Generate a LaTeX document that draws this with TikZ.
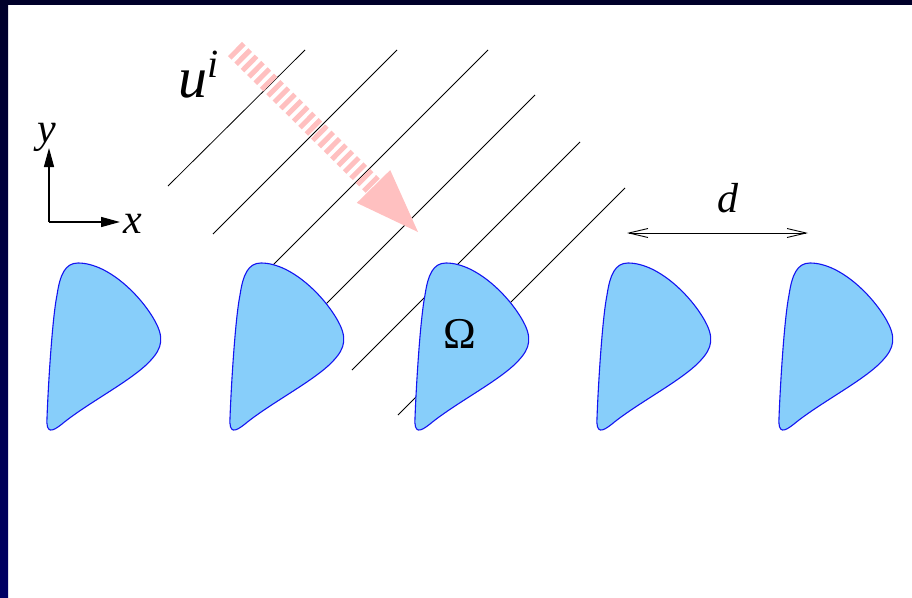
\documentclass[tikz,border=0pt]{standalone}
\usepackage{fontspec}
\setmainfont{Liberation Serif}
\usetikzlibrary{arrows.meta}
\definecolor{navytop}{HTML}{00002A}
\definecolor{navybot}{HTML}{000064}
\definecolor{skyfill}{HTML}{87CEFA}
\definecolor{blobline}{HTML}{1414F0}
\definecolor{wavepink}{HTML}{FFC0C0}

\begin{document}
\begin{tikzpicture}[x=1pt, y=-1pt,
    lbl/.style={inner sep=0pt, font={\fontsize{42}{48}\selectfont\itshape}},
    axis/.style={line width=1.4pt, -{Triangle[length=19pt, width=10pt]}},
    front/.style={line width=0.8pt, black}]
  \useasboundingbox (0,0) rectangle (912,597);
  \fill[white] (0,0) rectangle (912,597);
  % frame
  \shade[top color=navytop, bottom color=navybot] (0,0) rectangle (8,597);
  \fill[navytop] (0,0) rectangle (912,5);
  % wave fronts: lower end / upper end
  \foreach[count=\i] \xa/\ya/\xb/\yb in {%
    168/186/305/50,
    213/234/397/50,
    256/282/488/50,
    300/330/535/95,
    352/370/580/142,
    398/415/625/188} {
    \draw[front] (\xa,\ya) -- (\xb,\yb);
  }
  % scatterers
  \foreach[count=\k from 0] \off in {0,183,368,550,732} {
    \filldraw[fill=skyfill, draw=blobline, line width=1.1pt, shift={(\off,0)}]
      (78,263) .. controls (110,263) and (145,300) .. (157,325)
      .. controls (165,342) and (160,352) .. (145,366)
      .. controls (125,384) and (85,405) .. (62,424)
      .. controls (52,432) and (46,434) .. (47,418)
      .. controls (48,390) and (52,320) .. (57,295)
      .. controls (60,275) and (65,263) .. (78,263) -- cycle;
  }
  \node[inner sep=0pt, font={\fontsize{44}{48}\selectfont}] (om) at (460,334) {Ω};
  % incident wave
  \coordinate (ustart) at (235,49);
  \coordinate (ubase) at (373.5,186.5);
  \draw[wavepink, line width=20pt, dash pattern=on 5pt off 4pt] (ustart) -- (ubase);
  \fill[wavepink] (356.8,202.9) -- (390.2,170.1) -- (418,232) -- cycle;
  \node[lbl, anchor=base west, font={\fontsize{58}{60}\selectfont\itshape}] (ui)
    at (178,97) {u\raisebox{20pt}{\fontsize{40}{42}\selectfont i}};
  % axes
  \coordinate (O) at (49,222);
  \coordinate (ytip) at (49,148);
  \coordinate (xtip) at (120,222);
  \draw[axis] (O) -- (ytip);
  \draw[axis] (O) -- (xtip);
  \node[lbl, anchor=base] (ylab) at (47,142) {y};
  \node[lbl, anchor=base west] (xlab) at (123,233) {x};
  % period
  \coordinate (dl) at (627,233);
  \coordinate (dr) at (808,233);
  \draw[line width=0.9pt, {Straight Barb[length=19pt, width=9pt]}-{Straight Barb[length=19pt, width=9pt]}] (dl) -- (dr);
  \node[lbl, anchor=base] (dlab) at (728,212) {d};
\end{tikzpicture}
\end{document}
